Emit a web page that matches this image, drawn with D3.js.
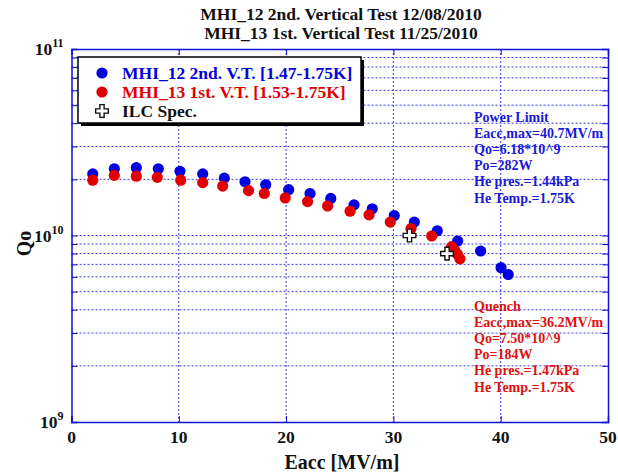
<!DOCTYPE html>
<html>
<head>
<meta charset="utf-8">
<script src="https://cdn.jsdelivr.net/npm/d3@7"></script>
<style>
  html, body { margin: 0; padding: 0; background: #fff; }
  svg { display: block; font-family: "Liberation Serif", "Times New Roman", serif; font-weight: bold; }
</style>
</head>
<body>
<svg id="chart" width="618" height="474"></svg>
<script>
// MHI_12, 2nd vertical test: Eacc [MV/m] and Qo
const mhi12Eacc = [1.98, 3.99, 6.04, 8.09, 10.11, 12.23, 14.24, 16.17, 18.1, 20.24, 22.23, 24.16,
                   26.33, 28.03, 30.08, 31.95, 34.09, 35.99, 38.13, 40.03, 40.7];
const mhi12Qo   = [2.14e10, 2.28e10, 2.31e10, 2.28e10, 2.21e10, 2.14e10, 2.03e10, 1.94e10, 1.87e10, 1.76e10, 1.68e10, 1.58e10,
                   1.46e10, 1.39e10, 1.28e10, 1.18e10, 1.06e10, 9.34e9, 8.26e9, 6.72e9, 6.18e9];

// MHI_13, 1st vertical test
const mhi13Eacc = [1.98, 3.99, 6.04, 8.0, 10.18, 12.23, 14.09, 16.5, 17.97, 19.92, 22.0, 23.87,
                   25.96, 27.73, 29.71, 31.64, 33.57, 35.43, 35.7, 35.95, 36.2];
const mhi13Qo   = [1.98e10, 2.10e10, 2.08e10, 2.05e10, 1.98e10, 1.92e10, 1.84e10, 1.74e10, 1.68e10, 1.59e10, 1.52e10, 1.44e10,
                   1.35e10, 1.29e10, 1.18e10, 1.09e10, 9.94e9, 8.71e9, 8.35e9, 7.95e9, 7.50e9];

// ILC specification points
const ilcEacc = [31.5, 35.0];
const ilcQo   = [1.0e10, 8.0e9];

const xTicks = [0, 10, 20, 30, 40, 50];
const yDecades = [1e9, 1e10, 1e11];
const yExponents = ["9", "10", "11"];

const titleLines = ["MHI_12 2nd. Vertical Test 12/08/2010", "MHI_13 1st. Vertical Test 11/25/2010"];
const legendLabels = ["MHI_12 2nd. V.T. [1.47-1.75K]", "MHI_13 1st. V.T. [1.53-1.75K]", "ILC Spec."];
const powerLimitNote = ["Power Limit", "Eacc,max=40.7MV/m", "Qo=6.18*10^9", "Po=282W", "He pres.=1.44kPa", "He Temp.=1.75K"];
const quenchNote = ["Quench", "Eacc,max=36.2MV/m", "Qo=7.50*10^9", "Po=184W", "He pres.=1.47kPa", "He Temp.=1.75K"];

const blue = "#0000e0", red = "#e00000", axisBlue = "#1010d0", gridBlue = "#3a3ae8";

const svg = d3.select("#chart");
const m = { left: 71.5, right: 608, top: 49, bottom: 422 };

const x = d3.scaleLinear().domain([0, 50]).range([m.left, m.right]);
const y = d3.scaleLog().domain([1e9, 1e11]).range([m.bottom, m.top]);

// grid: major x, all minor/major log y
const yGrid = [];
for (let d = 1e9; d < 1e11; d *= 10) for (let k = 1; k <= 9; k++) { if (!(d === 1e9 && k === 1)) yGrid.push(d * k); }
const g = svg.append("g");
g.selectAll(".gy").data(yGrid).join("line")
  .attr("x1", m.left).attr("x2", m.right)
  .attr("y1", d => y(d)).attr("y2", d => y(d))
  .attr("stroke", gridBlue).attr("stroke-width", 1).attr("stroke-dasharray", "2,2");
g.selectAll(".gx").data(xTicks.slice(1, -1)).join("line")
  .attr("x1", d => x(d)).attr("x2", d => x(d))
  .attr("y1", m.top).attr("y2", m.bottom)
  .attr("stroke", gridBlue).attr("stroke-width", 1).attr("stroke-dasharray", "2,2");

// axes with inward ticks
const axB = d3.axisBottom(x).tickValues(xTicks).tickSize(-6).tickFormat("");
const axT = d3.axisTop(x).tickValues(xTicks).tickSize(-6).tickFormat("");
const axL = d3.axisLeft(y).tickValues(yGrid.concat([1e11])).tickSize(-6).tickFormat("");
const axR = d3.axisRight(y).tickValues(yGrid.concat([1e11])).tickSize(-6).tickFormat("");
[[axB, `translate(0,${m.bottom})`], [axT, `translate(0,${m.top})`],
 [axL, `translate(${m.left},0)`], [axR, `translate(${m.right},0)`]].forEach(([ax, t]) => {
  const a = svg.append("g").attr("transform", t).call(ax);
  a.select(".domain").attr("stroke", axisBlue).attr("stroke-width", 1.5);
  a.selectAll(".tick line").attr("stroke", axisBlue).attr("stroke-width", 1);
});

// x tick labels
svg.append("g").selectAll("text").data(xTicks).join("text")
  .attr("x", d => x(d)).attr("y", m.bottom + 21)
  .attr("text-anchor", "middle").attr("font-size", 17.5).attr("fill", "#111")
  .text(d => d);

// y tick labels 10^n
const yl = svg.append("g").selectAll("text").data(yDecades).join("text")
  .attr("x", m.left - 8).attr("y", d => y(d) + 6)
  .attr("text-anchor", "end").attr("font-size", 17.5).attr("fill", "#111");
yl.append("tspan").text("10");
yl.append("tspan").attr("dy", -8).attr("font-size", 12).text((d, i) => yExponents[i]);

// axis titles
svg.append("text").attr("x", 342).attr("y", 469).attr("text-anchor", "middle")
  .attr("font-size", 20).attr("fill", "#111").text("Eacc [MV/m]");
svg.append("text").attr("transform", `translate(31,${y(1e10) + 8}) rotate(-90)`)
  .attr("text-anchor", "middle").attr("font-size", 20).attr("fill", "#111").text("Qo");

// title
svg.append("g").selectAll("text").data(titleLines).join("text")
  .attr("x", 341).attr("y", (d, i) => 20 + i * 19)
  .attr("text-anchor", "middle").attr("font-size", 17.5).attr("fill", "#111").text(d => d);

// data points
const pts = svg.append("g");
pts.selectAll(".b").data(mhi12Eacc).join("circle")
  .attr("cx", d => x(d)).attr("cy", (d, i) => y(mhi12Qo[i])).attr("r", 5.6).attr("fill", blue);
pts.selectAll(".r").data(mhi13Eacc).join("circle")
  .attr("cx", d => x(d)).attr("cy", (d, i) => y(mhi13Qo[i])).attr("r", 5.6).attr("fill", red);

// open cross symbol
const crossPath = d3.symbol().type(d3.symbolCross).size(90);
pts.selectAll(".c").data(ilcEacc).join("path")
  .attr("d", crossPath)
  .attr("transform", (d, i) => `translate(${x(d)},${y(ilcQo[i])})`)
  .attr("fill", "#fff").attr("stroke", "#111").attr("stroke-width", 1.4);

// legend box with shadow
const lg = svg.append("g");
lg.append("rect").attr("x", 81).attr("y", 60).attr("width", 283).attr("height", 66).attr("fill", "#000");
lg.append("rect").attr("x", 78).attr("y", 57).attr("width", 283).attr("height", 66)
  .attr("fill", "#fff").attr("stroke", "#000").attr("stroke-width", 1.5);
const legendColors = [blue, red, "#111"];
legendLabels.forEach((t, i) => {
  const ly = 73 + i * 19;
  if (i < 2) lg.append("circle").attr("cx", 102).attr("cy", ly).attr("r", 5.6).attr("fill", legendColors[i]);
  else lg.append("path").attr("d", crossPath).attr("transform", `translate(102,${ly})`)
    .attr("fill", "#fff").attr("stroke", "#111").attr("stroke-width", 1.4);
  lg.append("text").attr("x", 122).attr("y", ly + 6).attr("font-size", 17.5)
    .attr("fill", legendColors[i]).text(t);
});

// annotations
function note(lines, top, color) {
  svg.append("g").selectAll("text").data(lines).join("text")
    .attr("x", 474).attr("y", (d, i) => top + i * 16.2)
    .attr("font-size", 14).attr("fill", color).text(d => d);
}
note(powerLimitNote, 121.5, "#1a1ad8");
note(quenchNote, 310.5, "#e01010");
</script>
</body>
</html>
